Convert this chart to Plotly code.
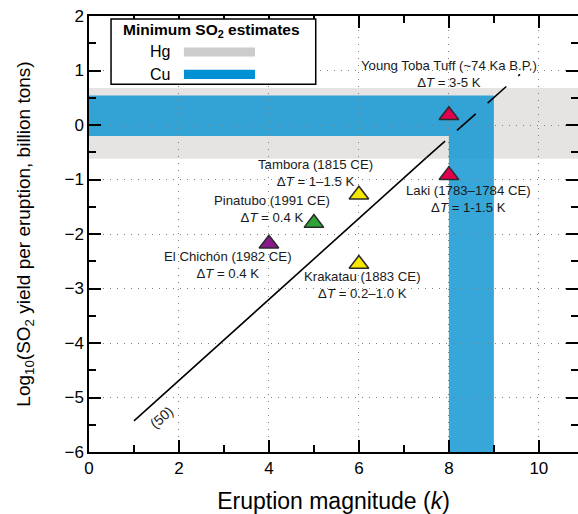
import plotly.graph_objects as go

# ---------------- data ----------------
names = ["El Chichón (1982 CE)", "Pinatubo (1991 CE)", "Tambora (1815 CE)",
         "Krakatau (1883 CE)", "Laki (1783–1784 CE)", "Young Toba Tuff (~74 Ka B.P.)"]
dT = ["0.4 K", "0.4 K", "1–1.5 K", "0.2–1.0 K", "1-1.5 K", "3-5 K"]
magnitude = [4, 5, 6, 6, 8, 8]
log_so2 = [-2.18, -1.80, -1.28, -2.55, -0.92, 0.18]
colors = ["#8a1a8c", "#2ea336", "#f7e600", "#f7e600", "#e0004f", "#e0004f"]
label_x = [3.09, 4.07, 5.04, 6.09, 8.44, 8.0]
label_y = [-2.57, -1.54, -0.88, -2.94, -1.35, 0.944]

# scaling line (50)
fit_k_solid = [1.0, 7.5]
fit_log_solid = [-5.43, -0.6]
fit_k_dash = [7.5, 9.58]
fit_log_dash = [-0.6, 0.93]

# minimum SO2 estimate bands
hg_low, hg_high = -0.62, 0.68
cu_low, cu_high = -0.2, 0.54
cu_k_low, cu_k_high = 8.0, 9.0

x_range = [0, 10.87]
y_range = [-6, 2]
x_ticks = [0, 2, 4, 6, 8, 10]
y_ticks = [-6, -5, -4, -3, -2, -1, 0, 1, 2]

FONT = "Liberation Sans, Arial, Helvetica, sans-serif"
HG_COLOR = "#e5e4e3"
CU_FILL = "rgba(20,150,210,0.85)"

fig = go.Figure()

fig.add_trace(go.Scatter(x=fit_k_solid, y=fit_log_solid, mode="lines",
                         line=dict(color="black", width=1.6), showlegend=False,
                         hoverinfo="skip"))
fig.add_trace(go.Scatter(x=fit_k_dash, y=fit_log_dash, mode="lines",
                         line=dict(color="black", width=1.6, dash="25px,16px"),
                         showlegend=False, hoverinfo="skip"))
fig.add_trace(go.Scatter(x=magnitude, y=log_so2, mode="markers",
                         marker=dict(symbol="triangle-up", size=17, color=colors,
                                     line=dict(color="#2a2a2a", width=1.5)),
                         showlegend=False, hoverinfo="skip"))

# right-side ticks without spine
fig.add_trace(go.Scatter(x=[None], y=[None], yaxis="y2", showlegend=False))

shapes = [
    dict(type="rect", xref="x", yref="y", x0=x_range[0], x1=x_range[1],
         y0=hg_low, y1=hg_high, fillcolor=HG_COLOR, line_width=0, layer="below"),
    dict(type="path", xref="x", yref="y",
         path=(f"M {x_range[0]},{cu_low} L {cu_k_low},{cu_low} L {cu_k_low},{y_range[0]} "
               f"L {cu_k_high},{y_range[0]} L {cu_k_high},{cu_high} L {x_range[0]},{cu_high} Z"),
         fillcolor=CU_FILL, line_width=0, layer="below"),
    # legend box
    dict(type="rect", xref="x", yref="y", x0=0.49, x1=5.04, y0=0.75, y1=1.945,
         fillcolor="white", line=dict(color="black", width=1.5), layer="above"),
    dict(type="rect", xref="x", yref="y", x0=2.11, x1=3.69, y0=1.256, y1=1.42,
         fillcolor="#cccccc", line_width=0, layer="above"),
    dict(type="rect", xref="x", yref="y", x0=2.11, x1=3.69, y0=0.846, y1=1.012,
         fillcolor="#0090d4", line_width=0, layer="above"),
]

annotations = []
for n, d, lx, ly in zip(names, dT, label_x, label_y):
    annotations.append(dict(x=lx, y=ly, xref="x", yref="y", showarrow=False,
                            text=f"{n}<br>Δ<i>T</i> = {d}", align="center",
                            font=dict(family=FONT, size=13.2, color="#1a1a1a")))
annotations += [
    dict(x=1.62, y=-5.36, xref="x", yref="y", showarrow=False, text="(50)",
         textangle=-41, font=dict(family=FONT, size=14, color="#1a1a1a")),
    dict(x=2.73, y=1.73, xref="x", yref="y", showarrow=False,
         text="<b>Minimum SO<sub>2</sub> estimates</b>",
         font=dict(family=FONT, size=15.5, color="black")),
    dict(x=1.58, y=1.34, xref="x", yref="y", showarrow=False, text="Hg",
         font=dict(family=FONT, size=16, color="black")),
    dict(x=1.58, y=0.93, xref="x", yref="y", showarrow=False, text="Cu",
         font=dict(family=FONT, size=16, color="black")),
]

axis_common = dict(ticks="inside", ticklen=12, tickwidth=1.5, tickcolor="black",
                   showline=True, linecolor="black", linewidth=1.5,
                   gridcolor="#808080", griddash="1px,6px", gridwidth=1,
                   zeroline=False, tickfont=dict(family=FONT, size=17, color="black"))

fig.update_layout(
    width=578, height=514,
    margin=dict(l=89, r=0, t=16, b=62),
    plot_bgcolor="white", paper_bgcolor="white",
    shapes=shapes, annotations=annotations,
    xaxis=dict(range=x_range, tickvals=x_ticks, mirror="ticks",
               minor=dict(dtick=1, ticks="inside", ticklen=7, tickwidth=1.5,
                          tickcolor="black", showgrid=False),
               title=dict(text="Eruption magnitude (<i>k</i>)", standoff=19,
                          font=dict(family=FONT, size=23, color="black")),
               **axis_common),
    yaxis=dict(range=y_range, tickvals=y_ticks, mirror=False,
               minor=dict(dtick=0.5, ticks="inside", ticklen=7, tickwidth=1.5,
                          tickcolor="black", showgrid=False),
               title=dict(text="Log<sub>10</sub>(SO<sub>2</sub> yield per eruption, billion tons)",
                          standoff=29, font=dict(family=FONT, size=19, color="black")),
               **axis_common),
    yaxis2=dict(range=y_range, overlaying="y", side="right", tickvals=y_ticks,
                ticks="inside", ticklen=12, tickwidth=1.5, tickcolor="black",
                showticklabels=False, showgrid=False, showline=False, zeroline=False,
                minor=dict(dtick=0.5, ticks="inside", ticklen=7, tickwidth=1.5,
                           tickcolor="black", showgrid=False)),
)

fig.write_html("out.html", config={"displayModeBar": False},
               post_script="document.body.style.margin='0';")
